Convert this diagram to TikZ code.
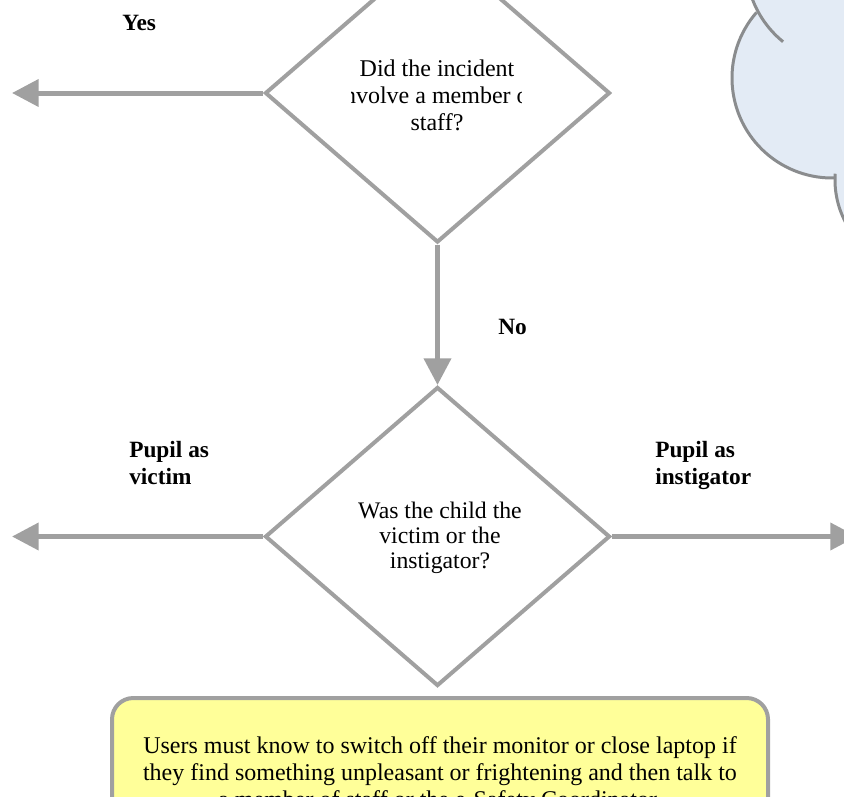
\documentclass[tikz,border=0pt]{standalone}
\usepackage{fontspec}
\setmainfont{Liberation Serif}
\usetikzlibrary{shapes.geometric,arrows.meta}

\definecolor{linegray}{RGB}{160,160,160}
\definecolor{cloudline}{RGB}{138,140,142}
\definecolor{cloudfill}{RGB}{227,235,245}
\definecolor{notefill}{RGB}{255,255,153}

\tikzset{
	decision/.style={diamond, draw=linegray, line width=3pt, minimum width=258.75pt, minimum height=224.25pt, inner sep=0pt},
	flow/.style={draw=linegray, line width=3.75pt, -{Triangle[length=20pt,width=20pt]}},
	choice/.style={font=\fontsize{17.5}{20}\selectfont\bfseries, align=left, inner sep=0pt},
	note/.style={draw=linegray, line width=3pt, fill=notefill, rounded corners=16pt, minimum width=492pt, inner xsep=0pt, inner ysep=29pt, font=\fontsize{18}{20.25}\selectfont, align=center}}

\begin{document}
\begin{tikzpicture}[x=0.75pt,y=0.75pt,yscale=-1,xscale=1]
	\useasboundingbox (0,0) rectangle (844,797);
	\clip (0,0) rectangle (844,797);

	%Cloud
	\fill[cloudfill] (846,-36) circle[radius=100];
	\fill[cloudfill] (832,78) circle[radius=100];
	\fill[cloudfill] (925,180) circle[radius=90];
	\fill[cloudfill] (846,-36) -- (832,78) -- (925,180) -- (1000,180) -- (1000,-60) -- cycle;
	\draw[cloudline, line width=2.25pt] (846,-36) ++(200:100) arc[start angle=200, end angle=129, radius=100];
	\draw[cloudline, line width=2.25pt] (832,78) ++(221:100) arc[start angle=221, end angle=88, radius=100];
	\draw[cloudline, line width=2.25pt] (925,180) ++(184:90) arc[start angle=184, end angle=120, radius=90];

	%Decisions
	\node[decision] (incident) at (437.5,93) {};
	\node[decision] (victim) at (437.5,536.5) {};
	\begin{scope}
		\clip (351,0) rectangle (521,242);
		\node[font=\fontsize{18}{20.25}\selectfont, align=center, inner sep=0pt] (incidenttext) at (437,95) {Did the incident\\involve a member of\\staff?};
	\end{scope}
	\node[font=\fontsize{17.8}{18.75}\selectfont, align=center, inner sep=0pt] (victimtext) at (440,538) {Was the child the\\victim or the\\instigator?};

	%Note
	\node[note, anchor=north] (usernote) at (440,696) {Users must know to switch off their monitor or close laptop if\\they find something unpleasant or frightening and then talk to\\a member of staff or the e-Safety Coordinator.};

	%Connectors
	\coordinate (yesend) at (12,93);
	\coordinate (pvictimend) at (12,536.5);
	\coordinate (pinstend) at (857,536.5);
	\draw[flow] (incident.west) -- (yesend);
	\draw[flow] (incident.south) -- (victim.north);
	\draw[flow] (victim.west) -- (pvictimend);
	\draw[flow] (victim.east) -- (pinstend);

	%Labels
	\node[choice, anchor=base west] (yes) at (122,30) {Yes};
	\node[choice, anchor=base west] (no) at (498,334) {No};
	\node[choice, anchor=north west] (pvictim) at (129,441) {Pupil as\\victim};
	\node[choice, anchor=north west] (pinst) at (655,441) {Pupil as\\instigator};
\end{tikzpicture}
\end{document}
